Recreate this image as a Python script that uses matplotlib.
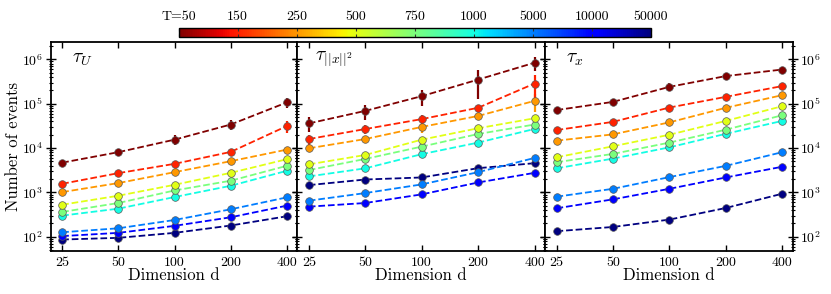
import numpy as np
import matplotlib
matplotlib.use("Agg")
import matplotlib.pyplot as plt
from matplotlib import ticker
from matplotlib.colors import Normalize
from matplotlib.cm import ScalarMappable

plt.rcParams['font.family'] = ['cmr10', 'DejaVu Serif']
plt.rcParams['mathtext.fontset'] = 'cm'
plt.rcParams['axes.formatter.use_mathtext'] = True

dims = [25, 50, 100, 200, 400]
T_labels = ['T=50', '150', '250', '500', '750', '1000', '5000', '10000', '50000']

tau_U = [
    [4700, 8100, 15500, 34000, 107000],
    [1570, 2730, 4420, 8200, 31400],
    [1020, 1630, 2870, 5070, 9250],
    [530, 845, 1490, 2770, 5620],
    [364, 579, 1110, 1840, 3990],
    [301, 432, 789, 1415, 3080],
    [127, 156, 240, 418, 776],
    [104, 123, 177, 276, 505],
    [87, 95, 123, 180, 291],
]
err_U = [
    [700, 1000, 4000, 8000, 27000],
    [150, 200, 400, 900, 9000],
    [80, 100, 200, 300, 800],
    [0, 50, 100, 200, 400],
    [0, 0, 80, 150, 300],
    [0, 0, 50, 100, 200],
    [0, 0, 0, 0, 0],
    [0, 0, 0, 0, 0],
    [0, 0, 0, 0, 0],
]

tau_x2 = [
    [36000, 69000, 148000, 350000, 840000],
    [16000, 26900, 45000, 81000, 285000],
    [9900, 16000, 30000, 53000, 116000],
    [4300, 7000, 15500, 28000, 47000],
    [3200, 5700, 10800, 20800, 34000],
    [2300, 3500, 7300, 13300, 27000],
    [653, 970, 1520, 2870, 6000],
    [479, 579, 906, 1680, 2770],
    [1465, 1960, 2180, 3530, 4570],
]
err_x2 = [
    [13000, 26000, 60000, 220000, 300000],
    [4000, 6000, 10000, 15000, 150000],
    [1500, 2500, 8000, 10000, 50000],
    [0, 0, 2000, 3000, 8000],
    [0, 0, 1000, 2000, 4000],
    [0, 0, 500, 1000, 3000],
    [0, 0, 0, 0, 0],
    [0, 0, 0, 0, 0],
    [0, 0, 0, 0, 0],
]

tau_x = [
    [72000, 110000, 240000, 420000, 590000],
    [25500, 39000, 82000, 143000, 250000],
    [14700, 20400, 38000, 81000, 156000],
    [6200, 11000, 20000, 41000, 88000],
    [4800, 7400, 13300, 26000, 55000],
    [3500, 5800, 10400, 21000, 41000],
    [803, 1210, 2220, 3980, 8100],
    [440, 700, 1210, 2180, 3800],
    [134, 167, 245, 447, 938],
]
err_x = [
    [10000, 15000, 50000, 80000, 40000],
    [1500, 3000, 8000, 15000, 20000],
    [0, 1500, 3000, 8000, 12000],
    [0, 0, 0, 3000, 6000],
    [0, 0, 0, 0, 0],
    [0, 0, 0, 0, 0],
    [0, 0, 0, 0, 0],
    [0, 0, 0, 0, 0],
    [0, 0, 0, 0, 0],
]

panel_titles = [r'$\tau_U$', r'$\tau_{||x||^2}$', r'$\tau_x$']
panels = [(tau_U, err_U), (tau_x2, err_x2), (tau_x, err_x)]

cmap = plt.get_cmap('jet_r')
n = len(T_labels)
colors = [cmap(i / (n - 1)) for i in range(n)]

fig = plt.figure(figsize=(8.31, 2.94), dpi=100)
W, H = 831, 294
bottom = 1 - 251 / H
height = (251 - 41.7) / H
lefts = [50.7, 297.3, 545.0]
rights = [297.3, 545.0, 792.7]

axes = []
for k in range(3):
    ax = fig.add_axes([lefts[k] / W, bottom, (rights[k] - lefts[k]) / W, height])
    axes.append(ax)
    vals, errs = panels[k]
    for i in range(n):
        ax.errorbar(dims, vals[i], yerr=errs[i], color=colors[i], ls='--', lw=1.3,
                    marker='o', ms=5.5, mfc=colors[i], mec='0.35', mew=0.5,
                    elinewidth=1.6, capsize=0, zorder=3 + (n - i) * 0.01)
    ax.set_xscale('log')
    ax.set_yscale('log')
    ax.set_xlim(21.7, 455)
    ax.set_ylim(48, 2.5e6)
    ax.xaxis.set_major_locator(ticker.FixedLocator(dims))
    ax.xaxis.set_major_formatter(ticker.FixedFormatter([str(d) for d in dims]))
    ax.xaxis.set_minor_locator(ticker.NullLocator())
    ax.yaxis.set_major_locator(ticker.LogLocator(base=10, numticks=10))
    ax.yaxis.set_minor_locator(ticker.LogLocator(base=10, subs=np.arange(2, 10), numticks=10))
    ax.tick_params(axis='x', which='major', direction='in', top=True, bottom=True,
                   length=4, width=1, labelsize=10, pad=4)
    ax.tick_params(axis='y', which='major', direction='inout', left=True, right=True,
                   length=7, width=1, labelsize=10, pad=2)
    ax.tick_params(axis='y', which='minor', direction='inout', left=True, right=True,
                   length=3.5, width=0.8)
    for s in ax.spines.values():
        s.set_linewidth(1.3)
    ax.set_xlabel('Dimension d', fontsize=12, labelpad=-1)
    ax.text(0.085 if k != 1 else 0.07, 0.915, panel_titles[k], transform=ax.transAxes,
            fontsize=14, ha='left', va='center')
    if k == 0:
        ax.set_ylabel('Number of events', fontsize=12, labelpad=1)
    elif k == 1:
        ax.tick_params(axis='y', labelleft=False)
    else:
        ax.tick_params(axis='y', labelleft=False, labelright=True)

cax = fig.add_axes([178.7 / W, 1 - 36.7 / H, (651 - 178.7) / W, 8.4 / H])
sm = ScalarMappable(norm=Normalize(0, n - 1), cmap=cmap)
cb = fig.colorbar(sm, cax=cax, orientation='horizontal', ticks=list(range(n)))
cb.ax.xaxis.set_ticks_position('top')
cb.ax.xaxis.set_label_position('top')
cb.ax.set_xticklabels(T_labels)
cb.ax.tick_params(axis='x', direction='in', length=2, width=0.8, labelsize=10, pad=4,
                  top=True, bottom=True, color='0.2')
cb.outline.set_linewidth(1.0)

fig.savefig('out.png', dpi=100)
